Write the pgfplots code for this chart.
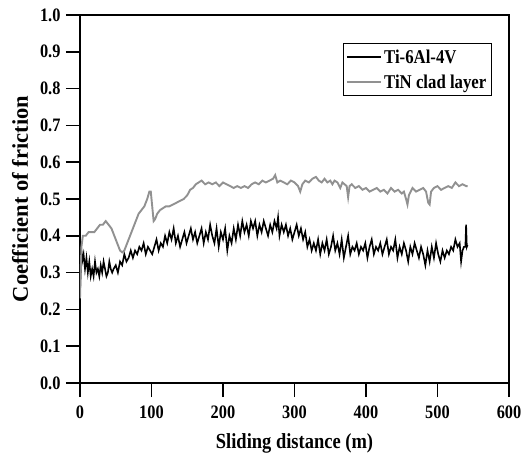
\documentclass[border=0pt]{standalone}
\usepackage{fontspec}
\setmainfont[FakeStretch=0.86]{Liberation Serif}
\newfontfamily\ylabfont{Liberation Serif}
\usepackage{pgfplots}
\pgfplotsset{compat=1.18}
\definecolor{tingray}{RGB}{145,145,145}
\begin{document}
\begin{tikzpicture}
\useasboundingbox (-80pt,-74pt) rectangle (441pt,383pt);
\begin{axis}[
  at={(0,0)}, anchor=south west,
  scale only axis, width=429pt, height=368pt,
  xmin=0, xmax=600, ymin=0, ymax=1.0,
  xtick={0,100,...,600}, ytick={0,0.1,...,1.0},
  tick align=outside, tick pos=left,
  major tick length=14pt,
  axis line style={line width=1.5pt},
  every tick/.style={line width=1.5pt, black},
  /pgf/number format/assume math mode=true,
  yticklabel style={xshift=-2pt, /pgf/number format/fixed, /pgf/number format/fixed zerofill, /pgf/number format/precision=1},
  xticklabel style={yshift=-5pt},
  tick label style={font=\bfseries\fontsize{19}{20}\selectfont},
  xlabel={Sliding distance (m)},
  ylabel={\ylabfont\bfseries Coefficient of friction},
  xlabel style={font=\bfseries\fontsize{21.5}{23}\selectfont, yshift=-8pt},
  ylabel style={font=\bfseries\fontsize{22.5}{24}\selectfont, yshift=5pt},
  legend style={at={(0.613,0.924)}, anchor=north west, draw=black, line width=1.2pt,
     font=\bfseries\fontsize{19.5}{21}\selectfont, row sep=6pt, inner xsep=3pt, inner ysep=4pt},
  legend cell align=left,
  legend image code/.code={\draw[#1, line width=1.6pt] (0pt,0pt) -- (34pt,0pt);},
]
\addplot[black, line width=1.6pt] coordinates {
(0,0.25)(1,0.30)(2,0.36)(3,0.33)(5,0.35)(7,0.31)(9,0.34)(11,0.30)(13,0.33)(15,0.29)
(17,0.31)(19,0.29)(21,0.33)(23,0.30)(25,0.31)(27,0.29)(29,0.32)(31,0.30)(33,0.33)(35,0.31)
(37,0.29)(39,0.30)(41,0.33)(43,0.31)(45,0.30)(47,0.31)(50,0.32)(53,0.30)(56,0.33)(59,0.32)
(62,0.35)(65,0.33)(68,0.34)(71,0.36)(74,0.34)(77,0.36)(80,0.35)(83,0.37)(86,0.36)(89,0.38)
(92,0.35)(95,0.37)(98,0.36)(101,0.35)(104,0.37)(107,0.39)(110,0.36)(113,0.38)(116,0.37)(119,0.40)
(122,0.38)(125,0.41)(128,0.39)(131,0.42)(134,0.38)(137,0.40)(140,0.37)(143,0.39)(146,0.41)(149,0.38)
(152,0.40)(155,0.42)(158,0.39)(161,0.41)(164,0.38)(167,0.40)(170,0.42)(173,0.38)(176,0.41)(179,0.39)
(182,0.43)(185,0.40)(188,0.38)(191,0.42)(194,0.37)(197,0.41)(200,0.39)(203,0.42)(206,0.36)(209,0.40)
(212,0.38)(215,0.42)(218,0.39)(221,0.43)(224,0.40)(227,0.44)(230,0.41)(233,0.43)(236,0.40)(239,0.44)
(242,0.42)(245,0.44)(248,0.40)(251,0.43)(254,0.41)(257,0.44)(260,0.42)(263,0.40)(266,0.43)(269,0.41)
(272,0.44)(275,0.42)(277,0.45)(279,0.40)(282,0.43)(285,0.41)(288,0.43)(291,0.40)(294,0.42)(297,0.39)
(300,0.41)(303,0.43)(306,0.40)(309,0.42)(312,0.39)(315,0.41)(318,0.37)(321,0.39)(324,0.36)(327,0.38)
(330,0.36)(333,0.39)(336,0.35)(339,0.38)(342,0.36)(345,0.39)(348,0.35)(351,0.37)(354,0.40)(357,0.36)
(360,0.38)(363,0.35)(366,0.39)(369,0.34)(372,0.37)(375,0.40)(378,0.35)(381,0.37)(384,0.36)(387,0.38)
(390,0.35)(393,0.37)(396,0.36)(399,0.38)(402,0.34)(405,0.37)(408,0.39)(411,0.35)(414,0.37)(417,0.36)
(420,0.38)(423,0.35)(426,0.37)(429,0.39)(432,0.35)(435,0.37)(438,0.36)(441,0.39)(444,0.34)(447,0.37)
(450,0.35)(453,0.38)(456,0.36)(459,0.33)(462,0.37)(465,0.35)(468,0.38)(471,0.36)(474,0.34)(477,0.37)
(480,0.35)(483,0.32)(486,0.36)(489,0.33)(492,0.37)(495,0.34)(498,0.38)(501,0.35)(504,0.33)(507,0.36)
(510,0.34)(513,0.36)(516,0.35)(519,0.37)(522,0.36)(525,0.39)(528,0.37)(531,0.38)(533,0.33)(535,0.36)
(537,0.37)(539,0.37)(540,0.43)(541,0.37)(542,0.375)
};
\addlegendentry{Ti-6Al-4V}
\addplot[tingray, line width=1.9pt] coordinates {
(0,0.23)(1,0.30)(2,0.37)(4,0.40)(8,0.40)(12,0.41)(16,0.41)(20,0.41)(24,0.42)(28,0.43)
(32,0.43)(36,0.44)(40,0.43)(44,0.42)(48,0.40)(52,0.38)(56,0.36)(59,0.355)(62,0.36)(66,0.38)
(70,0.40)(74,0.42)(78,0.44)(82,0.46)(86,0.47)(90,0.48)(94,0.50)(97,0.52)(99,0.52)(101,0.48)
(103,0.44)(105,0.445)(108,0.46)(112,0.47)(116,0.475)(120,0.48)(125,0.48)(130,0.485)(135,0.49)(140,0.495)
(145,0.50)(150,0.51)(154,0.525)(158,0.53)(162,0.54)(166,0.545)(170,0.55)(175,0.54)(180,0.545)(185,0.54)
(190,0.545)(195,0.535)(200,0.545)(205,0.54)(210,0.535)(215,0.53)(220,0.535)(225,0.53)(230,0.535)(235,0.53)
(240,0.54)(245,0.545)(250,0.54)(255,0.55)(260,0.545)(265,0.55)(270,0.555)(273,0.565)(276,0.545)(280,0.55)
(285,0.545)(290,0.54)(295,0.55)(300,0.545)(305,0.535)(308,0.52)(311,0.54)(315,0.55)(320,0.545)(325,0.555)
(330,0.56)(334,0.55)(338,0.545)(342,0.555)(346,0.545)(350,0.55)(353,0.54)(356,0.55)(360,0.545)(364,0.53)
(367,0.545)(370,0.54)(373,0.535)(375,0.505)(377,0.535)(380,0.54)(385,0.53)(390,0.535)(395,0.525)(400,0.53)
(405,0.52)(410,0.525)(415,0.53)(420,0.52)(425,0.525)(430,0.515)(435,0.53)(440,0.52)(445,0.525)(450,0.515)
(453,0.52)(456,0.50)(458,0.485)(460,0.51)(465,0.53)(470,0.52)(475,0.525)(480,0.53)(484,0.52)(487,0.49)
(489,0.485)(491,0.52)(495,0.53)(500,0.535)(505,0.525)(510,0.53)(515,0.535)(520,0.53)(525,0.545)(530,0.535)
(535,0.54)(540,0.535)(542,0.535)
};
\addlegendentry{TiN clad layer}
\end{axis}
\end{tikzpicture}
\end{document}
